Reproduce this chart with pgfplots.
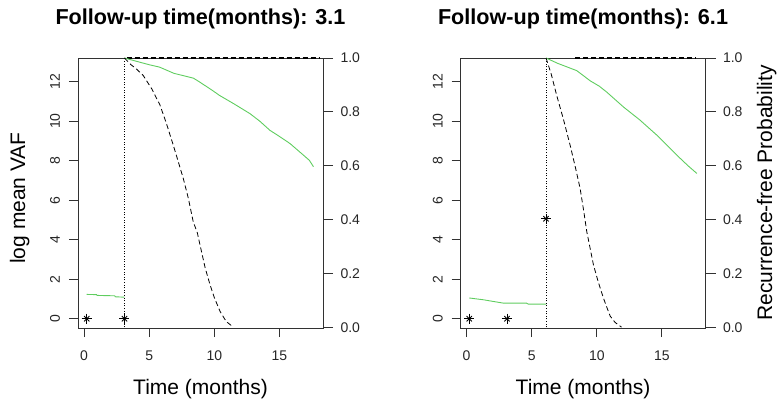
\documentclass[border=0pt]{standalone}
\usepackage{pgfplots}
\pgfplotsset{compat=1.18}
\usepackage{fontspec}
\setmainfont{Liberation Sans}[BoldFont={Liberation Sans Bold}]
\definecolor{rgreen}{RGB}{95,205,95}
\definecolor{axgray}{RGB}{50,50,50}
\pgfplotsset{
  base/.style={
    scale only axis, width=245pt, height=270pt,
    anchor=south west,
    xmin=-0.47, xmax=18.35,
    tick align=outside, major tick length=9pt,
    axis line style={draw=axgray, line width=0.9pt},
    every tick/.style={axgray, line width=0.9pt},
    /pgf/number format/assume math mode=true,
    tick label style={font=\fontsize{14}{16}\selectfont, text=black!85},
    label style={font=\fontsize{21}{24}\selectfont},
    every axis title shift=0pt,
    title style={font=\fontsize{21.6}{25}\selectfont\bfseries, at={(0.5,1)}, anchor=base, yshift=33pt},
  },
  leftax/.style={base,
    ymin=-0.47, ymax=13.2,
    xtick={0,5,10,15}, xtick pos=bottom,
    ytick={0,2,4,6,8,10,12}, ytick pos=left,
    yticklabel style={rotate=90, anchor=base},
    yticklabel shift=9pt,
    xticklabel style={anchor=base},
    xticklabel shift=23pt,
    xlabel={Time (months)},
    xlabel style={at={(0.5,0)}, anchor=base, yshift=-67pt},
    extra description/.code={\draw[axgray, line width=0.9pt] (0,0) rectangle (1,1);},
  },
  rightax/.style={base,
    ymin=-0.003, ymax=1.0,
    axis x line=none, axis y line*=right,
    major tick length=10pt,
    ytick={0,0.2,0.4,0.6,0.8,1.0},
    yticklabels={0.0,0.2,0.4,0.6,0.8,1.0},
    yticklabel style={anchor=west},
    yticklabel shift=4pt,
  },
  dashedblk/.style={black, line width=0.8pt, dash pattern=on 5pt off 3pt},
  toplinedash/.style={black, line width=1.4pt, dash pattern=on 5pt off 3pt},
  dottedblk/.style={black, line width=0.8pt, dash pattern=on 1pt off 1.6pt},
  greenl/.style={rgreen, line width=0.9pt},
  plusm/.style={only marks, mark=+, mark size=5pt, black, mark options={line width=0.8pt}},
  crossm/.style={only marks, mark=x, mark size=3.8pt, black, mark options={line width=0.8pt}},
}
\begin{document}
\begin{tikzpicture}
\path[use as bounding box] (0,0) rectangle (777pt,404pt);
% ---------------- left panel ----------------
\begin{axis}[leftax, at={(78pt,76pt)},
  title={Follow-up time(months): 3.1},
  ylabel={log mean VAF},
  ylabel style={at={(-0.2163,0.4815)}, anchor=base},
]
\addplot[greenl] coordinates {(0.2,1.23) (0.95,1.22) (1.0,1.18) (2.35,1.16) (2.4,1.11) (3.1,1.09)};
\addplot[plusm] coordinates {(0.2,0) (3.1,0)};
\addplot[crossm] coordinates {(0.2,0) (3.1,0)};
\end{axis}
\begin{axis}[rightax, at={(78pt,76pt)}]
\addplot[dottedblk] coordinates {(3.1,-0.01) (3.1,1.0)};
\addplot[toplinedash] coordinates {(3.26,1.0) (18.1,1.0)};
\addplot[greenl] coordinates {(3.1,1.0) (4.0,0.988) (5.0,0.975) (5.8,0.966) (6.9,0.943) (8.4,0.925) (8.9,0.910) (9.9,0.878) (10.4,0.861) (11.5,0.830) (12.75,0.793) (13.5,0.765) (14.28,0.731) (14.9,0.712) (15.82,0.682) (16.85,0.639) (17.3,0.62) (17.62,0.596)};
\addplot[dashedblk] coordinates {(3.1,1.0) (3.6,0.975) (4.0,0.96) (4.54,0.935) (5.2,0.885) (5.82,0.826) (6.3,0.76) (6.85,0.676) (7.2,0.62) (7.62,0.552) (8.0,0.48) (8.38,0.392) (8.7,0.35) (8.9,0.306) (9.3,0.22) (9.67,0.158) (10.0,0.11) (10.44,0.059) (10.8,0.03) (11.0,0.018) (11.46,0.0)};
\end{axis}
% ---------------- right panel ----------------
\begin{axis}[leftax, at={(460.5pt,76pt)},
  title={Follow-up time(months): 6.1},
]
\addplot[greenl] coordinates {(0.2,1.05) (1.28,0.96) (2.82,0.79) (4.6,0.79) (4.74,0.74) (6.1,0.74)};
\addplot[plusm] coordinates {(0.2,0) (3.1,0) (6.1,5.06)};
\addplot[crossm] coordinates {(0.2,0) (3.1,0) (6.1,5.06)};
\end{axis}
\begin{axis}[rightax, at={(460.5pt,76pt)},
  ylabel={Recurrence-free Probability},
  ylabel style={at={(1.2722,0.5)}, anchor=base},
]
\addplot[dottedblk] coordinates {(6.1,-0.01) (6.1,1.0)};
\addplot[toplinedash] coordinates {(8.33,1.0) (17.56,1.0)};
\addplot[greenl] coordinates {(6.1,1.0) (7.0,0.98) (8.46,0.953) (9.5,0.915) (10.2,0.895) (10.77,0.873) (12.05,0.818) (13.3,0.77) (14.62,0.713) (16.15,0.639) (17.0,0.60) (17.69,0.571)};
\addplot[dashedblk] coordinates {(6.1,1.0) (6.5,0.94) (6.92,0.861) (7.45,0.77) (7.95,0.676) (8.35,0.595) (8.72,0.515) (9.0,0.43) (9.23,0.355) (9.5,0.29) (9.74,0.232) (10.1,0.17) (10.51,0.108) (10.8,0.07) (11.03,0.041) (11.4,0.018) (11.9,0.0)};
\end{axis}
\end{tikzpicture}
\end{document}
